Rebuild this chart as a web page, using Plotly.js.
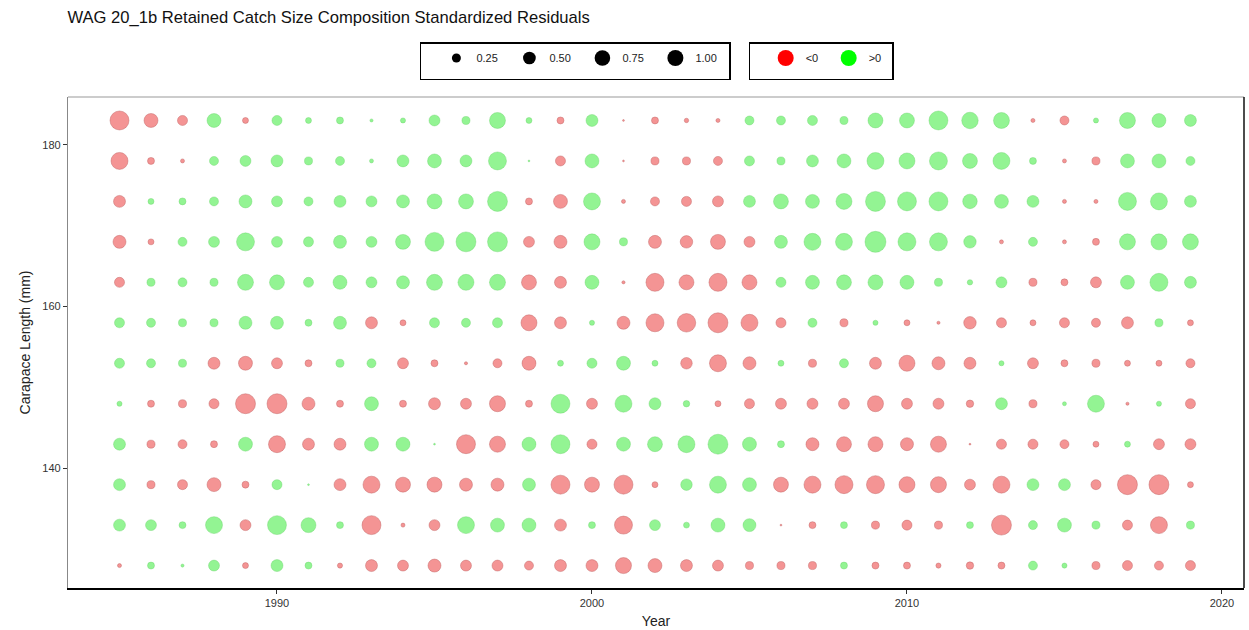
<!DOCTYPE html>
<html>
<head>
<meta charset="utf-8">
<script src="https://cdn.plot.ly/plotly-3.0.1.min.js"></script>
<style>html,body{margin:0;padding:0;background:#fff;}#chart{width:1249px;height:630px;}</style>
</head>
<body>
<div id="chart"></div>
<script>
// ---- data (signed standardized residuals) ----
const years = [1985,1986,1987,1988,1989,1990,1991,1992,1993,1994,1995,1996,1997,1998,1999,2000,2001,2002,2003,2004,2005,2006,2007,2008,2009,2010,2011,2012,2013,2014,2015,2016,2017,2018,2019];
const lengths = [128,133,138,143,148,153,158,163,168,173,178,183];

const res183 = [-1.11,-0.60,-0.31,0.60,-0.11,0.31,0.11,0.15,0.03,0.08,0.37,0.20,0.79,0.11,-0.15,0.44,-0.01,-0.15,-0.06,-0.05,0.25,0.25,0.31,0.20,0.69,0.69,1.11,0.84,0.79,-0.05,-0.25,0.08,0.79,0.60,0.44];
const res178 = [-0.89,-0.15,-0.05,0.25,0.37,0.44,0.20,0.25,0.05,0.44,0.60,0.44,1.00,0.01,-0.31,0.60,-0.01,-0.20,-0.20,-0.25,0.31,0.20,0.44,0.60,0.89,0.79,1.00,0.69,0.89,0.15,-0.05,-0.20,0.60,0.60,0.25];
const res173 = [-0.44,0.11,0.15,0.25,0.52,0.37,0.25,0.44,0.37,0.52,0.69,0.69,1.23,-0.15,-0.60,0.89,-0.05,-0.25,-0.31,-0.37,0.44,0.69,0.60,0.79,1.23,1.11,1.11,0.65,0.60,0.44,-0.05,-0.05,1.00,0.89,0.44];
const res168 = [-0.52,-0.11,0.25,0.37,1.00,0.37,0.31,0.52,0.37,0.69,1.11,1.23,1.23,-0.37,-0.52,0.79,0.20,-0.52,-0.48,-0.69,-0.37,0.52,0.89,0.89,1.36,1.00,1.00,0.48,-0.05,0.25,-0.05,-0.15,0.79,0.79,0.79];
const res163 = [-0.31,0.20,0.25,0.20,0.79,0.69,0.31,0.60,0.37,0.52,0.79,0.79,0.79,-0.69,-0.44,0.60,-0.03,-1.00,-0.69,-1.00,-0.69,0.31,0.60,0.69,0.69,0.60,0.20,0.09,0.37,-0.20,-0.15,-0.37,0.60,1.00,0.44];
const res158 = [0.31,0.25,0.20,0.20,0.52,0.52,0.15,0.52,-0.44,-0.11,0.31,0.25,0.31,-0.79,-0.44,0.08,-0.52,-1.00,-1.06,-1.23,-0.89,-0.31,0.25,-0.20,0.08,-0.11,-0.03,-0.48,-0.31,-0.11,-0.31,-0.25,-0.44,0.20,-0.11];
const res153 = [0.31,0.25,0.20,-0.44,-0.60,-0.37,-0.15,0.20,0.25,-0.37,-0.15,-0.03,-0.25,-0.60,0.11,0.31,0.60,0.11,-0.41,-0.89,-0.52,0.11,-0.20,0.25,-0.44,-0.79,-0.52,-0.44,0.08,-0.37,-0.15,-0.20,-0.11,-0.11,-0.25];
const res148 = [0.08,-0.15,-0.20,-0.31,-1.23,-1.23,-0.52,-0.15,0.60,-0.15,-0.44,-0.37,-0.79,-0.15,1.11,-0.37,0.89,0.44,0.13,-0.11,-0.31,-0.37,-0.37,-0.37,-0.79,-0.37,-0.37,-0.17,0.44,-0.20,0.05,0.89,-0.03,0.08,-0.31];
const res143 = [0.44,-0.20,-0.25,-0.15,0.60,-0.89,-0.44,-0.44,0.60,0.60,0.01,-1.11,-0.79,0.60,1.11,-0.31,0.60,0.69,0.89,1.23,0.60,0.15,-0.52,-0.69,-0.69,-0.52,-0.79,-0.01,-0.31,-0.31,-0.25,-0.11,0.11,-0.37,-0.37];
const res138 = [0.44,-0.20,-0.31,-0.60,-0.15,0.31,0.01,-0.44,-0.89,-0.69,-0.69,-0.52,-0.52,0.52,-1.11,-0.69,-1.11,-0.11,0.41,0.89,0.60,-0.69,-0.89,-1.00,-1.00,-0.79,-0.79,-0.37,-0.89,0.44,0.44,-0.31,-1.23,-1.23,-0.11];
const res133 = [0.44,0.37,0.15,0.89,-0.37,1.11,0.69,0.15,-1.11,-0.05,-0.37,0.89,0.60,0.60,-0.44,0.15,-1.00,0.37,0.11,0.60,0.52,-0.01,-0.15,0.15,-0.20,-0.31,-0.20,0.15,-1.23,0.25,0.60,0.20,-0.31,-0.89,0.20];
const res128 = [-0.05,0.15,0.03,0.37,-0.11,0.44,0.15,-0.08,-0.44,-0.37,-0.52,-0.37,-0.37,-0.25,-0.44,-0.44,-0.79,-0.60,-0.44,-0.37,-0.20,-0.20,-0.20,0.15,-0.15,-0.15,-0.08,-0.17,-0.15,0.25,0.08,-0.20,-0.31,-0.25,-0.31];

const legendSizes = [0.25, 0.50, 0.75, 1.00];
const legendSizeLabels = ['0.25', '0.50', '0.75', '1.00'];
const signLabels = ['<0', '>0'];

// ---- build traces ----
const rows = [res128,res133,res138,res143,res148,res153,res158,res163,res168,res173,res178,res183];
const neg = {x:[], y:[], s:[], v:[]};
const pos = {x:[], y:[], s:[], v:[]};
rows.forEach((row, i) => {
  row.forEach((v, j) => {
    const t = v < 0 ? neg : pos;
    t.x.push(years[j]); t.y.push(lengths[i]); t.s.push(Math.abs(v)); t.v.push(v);
  });
});
const PX = 18; // diameter in px for |residual| = 1 (area scaling)
const sizeref = 2 / (PX * PX);

const traces = [
  {type:'scatter', mode:'markers', x:neg.x, y:neg.y, customdata:neg.v, showlegend:false, hovertemplate:'%{x}, %{y} mm: %{customdata}<extra></extra>',
   marker:{size:neg.s, sizemode:'area', sizeref:sizeref, sizemin:0, color:'rgba(234,40,40,0.7)', line:{width:0.7, color:'rgba(160,25,25,0.6)'}}},
  {type:'scatter', mode:'markers', x:pos.x, y:pos.y, customdata:pos.v, showlegend:false, hovertemplate:'%{x}, %{y} mm: %{customdata}<extra></extra>',
   marker:{size:pos.s, sizemode:'area', sizeref:sizeref, sizemin:0, color:'rgba(20,232,20,0.65)', line:{width:0.7, color:'rgba(30,185,30,0.5)'}}}
];
legendSizes.forEach((v, k) => {
  traces.push({type:'scatter', mode:'markers', x:[null], y:[null], name:legendSizeLabels[k], legend:'legend', showlegend:true,
    marker:{size:PX*Math.sqrt(v), color:'#000'}});
});
traces.push({type:'scatter', mode:'markers', x:[null], y:[null], name:signLabels[0], legend:'legend2', showlegend:true, marker:{size:18, color:'#ff0000'}});
traces.push({type:'scatter', mode:'markers', x:[null], y:[null], name:signLabels[1], legend:'legend2', showlegend:true, marker:{size:18, color:'#00ff00'}});

const FONT = 'Liberation Sans, Arial, sans-serif';
const legTitle = {text:'&nbsp;', side:'left', font:{size:19}};
const layout = {
  width:1249, height:630,
  margin:{l:68, r:5, t:97, b:42},
  paper_bgcolor:'#fff', plot_bgcolor:'#fff',
  font:{family:FONT, color:'#222', size:11},
  title:{text:'WAG 20_1b Retained Catch Size Composition Standardized Residuals', x:0.054, xanchor:'left', xref:'container', y:0.972, yanchor:'middle', yref:'container', font:{family:FONT, size:16.6, color:'#111'}},
  xaxis:{range:[1983.365, 2020.70], tickvals:[1990,2000,2010,2020], ticks:'outside', ticklen:4, tickcolor:'#333', showgrid:false, zeroline:false,
    showline:true, linecolor:'#000', linewidth:1.5, tickfont:{size:11, color:'#333'},
    title:{text:'Year', font:{size:14, color:'#222'}, standoff:8}},
  yaxis:{range:[125.23, 185.9], tickvals:[140,160,180], ticks:'outside', ticklen:4, tickcolor:'#333', showgrid:false, zeroline:false,
    showline:true, linecolor:'#888', linewidth:1.2, tickfont:{size:11, color:'#333'},
    title:{text:'Carapace Length (mm)', font:{size:14, color:'#222'}, standoff:8}},
  shapes:[
    {type:'line', xref:'paper', yref:'paper', x0:0, x1:1, y0:1, y1:1, line:{color:'#999', width:1.2}},
    {type:'line', xref:'paper', yref:'paper', x0:1, x1:1, y0:0, y1:1, line:{color:'#111', width:1.5}}
  ],
  legend:{orientation:'h', x:0.299, y:1.112, xanchor:'left', yanchor:'top', bordercolor:'#000', borderwidth:1.5, bgcolor:'#fff',
    font:{size:11, color:'#222'}, itemsizing:'trace', itemclick:false, entrywidth:28, title:legTitle},
  legend2:{orientation:'h', x:0.579, y:1.112, xanchor:'left', yanchor:'top', bordercolor:'#000', borderwidth:1.5, bgcolor:'#fff',
    font:{size:11, color:'#222'}, itemsizing:'trace', itemclick:false, entrywidth:18, title:legTitle},
  hovermode:'closest'
};
Plotly.newPlot('chart', traces, layout, {displayModeBar:false});
</script>
</body>
</html>
